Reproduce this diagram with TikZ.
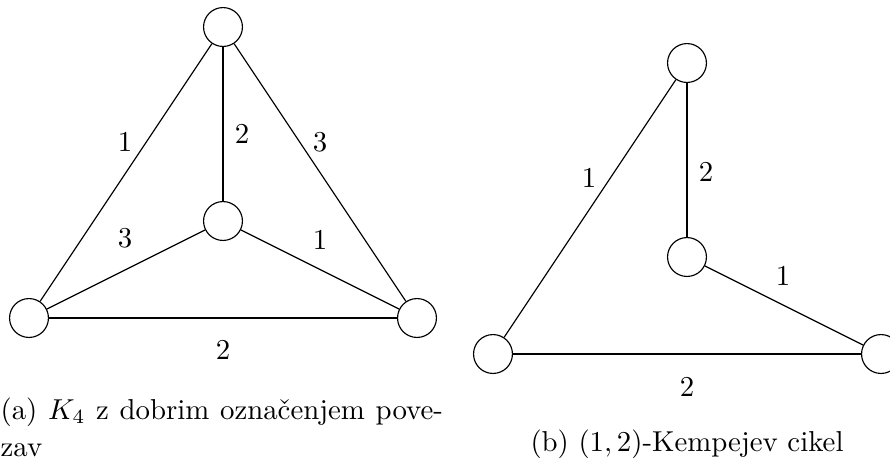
\documentclass[tikz,border=0pt]{standalone}
\begin{document}
\begin{tikzpicture}[x=0.347pt,y=-0.347pt,
  vert/.style={circle,draw,minimum size=13.5pt,inner sep=0pt},
  lab/.style={inner sep=0pt,font=\normalsize}]
\useasboundingbox (0,0) rectangle (890,462);
\clip (0,0) rectangle (890,462);
% (a)
\node[vert] (at) at (223,27) {};
\node[vert] (ac) at (223,221) {};
\node[vert] (al) at (29,318) {};
\node[vert] (ar) at (417,318) {};
\draw (at) -- (al);
\draw (at) -- (ac);
\draw (at) -- (ar);
\draw (ac) -- (al);
\draw (ac) -- (ar);
\draw (al) -- (ar);
\node[lab] (l1) at (125,142) {1};
\node[lab] (l2) at (242,134) {2};
\node[lab] (l3) at (320,142) {3};
\node[lab] (l4) at (125,238) {3};
\node[lab] (l5) at (320,240) {1};
\node[lab] (l6) at (223,350) {2};
\node[anchor=base west,inner sep=0pt] (capa1) at (0,419) {\makebox[153.5pt][s]{(a) $K_4$ z dobrim označenjem pove-}};
\node[anchor=base west,inner sep=0pt] (capa2) at (0,456) {zav};
% (b)
\node[vert] (bt) at (687,63) {};
\node[vert] (bc) at (687,257) {};
\node[vert] (bl) at (493,354) {};
\node[vert] (br) at (881,354) {};
\draw (bt) -- (bl);
\draw (bt) -- (bc);
\draw (bc) -- (br);
\draw (bl) -- (br);
\node[lab] (m1) at (589,178) {1};
\node[lab] (m2) at (706,172) {2};
\node[lab] (m3) at (783,276) {1};
\node[lab] (m4) at (687,387) {2};
\node[anchor=base,inner sep=0pt] (capb) at (687,451) {(b) $(1,2)$-Kempejev cikel};
\end{tikzpicture}
\end{document}
